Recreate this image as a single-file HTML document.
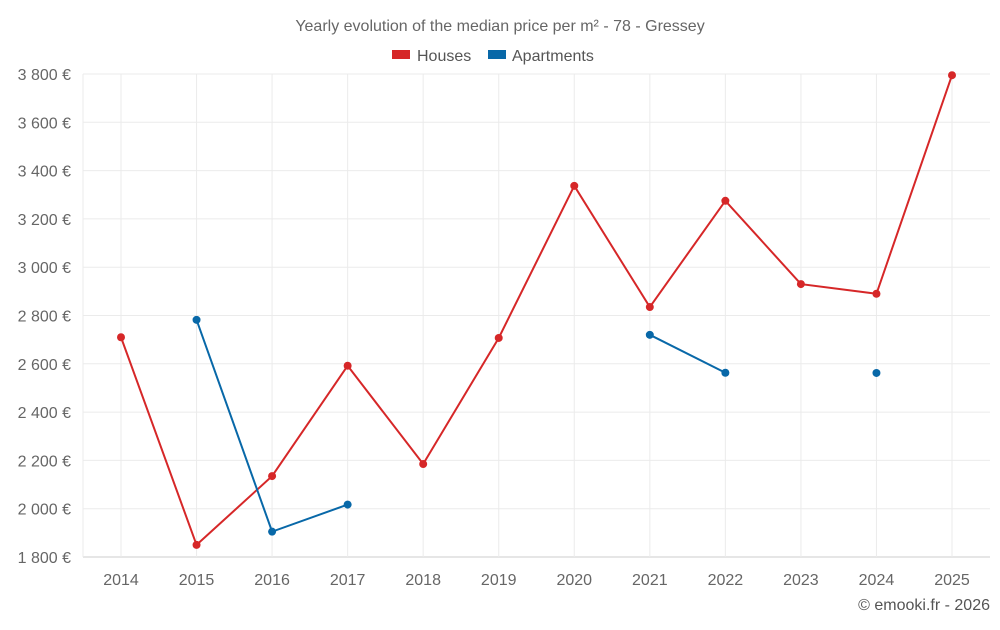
<!DOCTYPE html>
<html><head><meta charset="utf-8"><style>
body{margin:0;background:#fff;font-family:"Liberation Sans",sans-serif;}
svg text{font-family:"Liberation Sans",sans-serif;}
</style></head><body>
<svg id="c" width="1000" height="625">
<text x="500" y="31" text-anchor="middle" font-size="16" fill="#666">Yearly evolution of the median price per m² - 78 - Gressey</text>
<g><rect x="392" y="50" width="18" height="9" fill="#d62728"/><text x="417" y="61" font-size="16" fill="#555">Houses</text></g>
<g><rect x="488" y="50" width="18" height="9" fill="#0868a8"/><text x="512" y="61" font-size="16" fill="#555">Apartments</text></g>
<g id="grid"></g><g id="marks"></g>
<text x="990" y="610" text-anchor="end" font-size="16" fill="#555">© emooki.fr - 2026</text>
</svg>
<script>
const years=[2014,2015,2016,2017,2018,2019,2020,2021,2022,2023,2024,2025];
const houses=[2710,1850,2135,2592,2185,2707,3337,2835,3275,2930,2890,3795];
const apartments=[null,2782,1905,2017,null,null,null,2720,2563,null,2562,null];
const yTicks=[1800,2000,2200,2400,2600,2800,3000,3200,3400,3600,3800];
const NS="http://www.w3.org/2000/svg";
const L=83,R=990,T=74,B=557,yMin=1800,yMax=3800;
const xs=i=>121+i*(952-121)/(years.length-1);
const ys=v=>B-(v-yMin)/(yMax-yMin)*(B-T);
const g=document.getElementById('grid'),m=document.getElementById('marks');
function mk(t,a,p){const e=document.createElementNS(NS,t);for(const k in a)e.setAttribute(k,a[k]);p.appendChild(e);return e;}
yTicks.forEach(v=>{
 const l=mk('line',{x1:L,x2:R,y1:ys(v),y2:ys(v),stroke:v===yMin?'#ccc':'#ebebeb'},g);
 
 
 const t=mk('text',{x:71,y:ys(v)+6,'text-anchor':'end','font-size':16,fill:'#666'},g);
 t.textContent=v.toLocaleString('fr-FR').replace(/\u202f|\u00a0/g,' ')+' €';
 
 
});
years.forEach((y,i)=>{
 const x=xs(i);
 const l=mk('line',{x1:x,x2:x,y1:T,y2:B,stroke:'#ebebeb'},g);
 
 
 const t=mk('text',{x:x,y:585,'text-anchor':'middle','font-size':16,fill:'#666'},g);
 t.textContent=y;
 
 
});
mk('line',{x1:L,x2:L,y1:T,y2:B,stroke:'#ebebeb'},g);
function series(vals,color,name){
 let seg=[];
 const flush=()=>{if(seg.length>1){const p=mk('polyline',{points:seg.join(' '),fill:'none',stroke:color,'stroke-width':2},m);
  
  }seg=[];};
 vals.forEach((v,i)=>{if(v==null){flush();return;}seg.push(xs(i)+','+ys(v));});
 flush();
 vals.forEach((v,i)=>{if(v==null)return;
  const c=mk('circle',{cx:xs(i),cy:ys(v),r:4,fill:color},m);
  
  });
}
series(houses,'#d62728','houses');
series(apartments,'#0868a8','apartments');
</script>
</body></html>
